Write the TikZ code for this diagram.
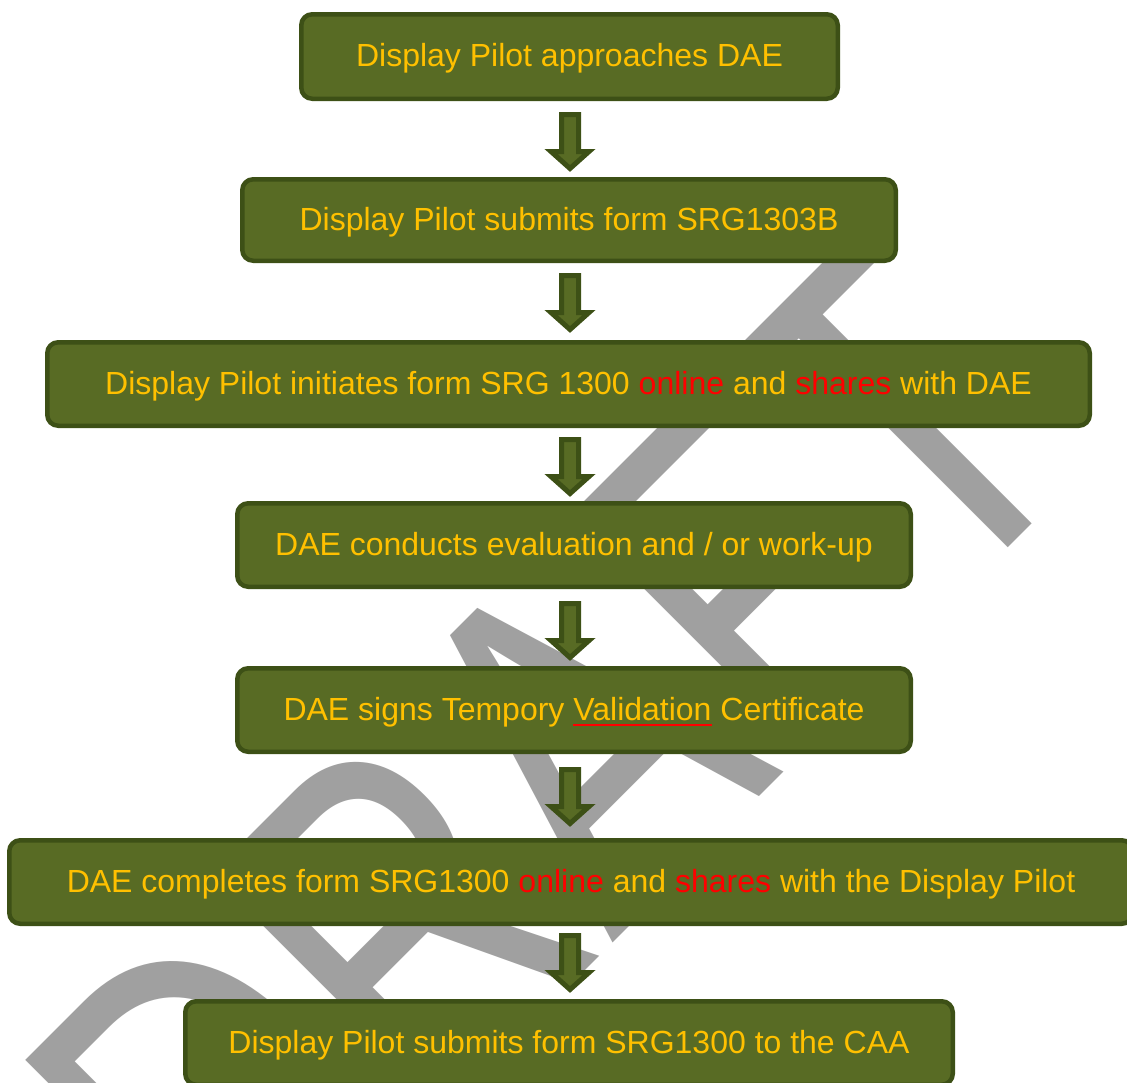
\documentclass[tikz,border=0pt]{standalone}
\usepackage{fontspec}
\setmainfont{Liberation Sans}
\usepackage{graphicx}
\usetikzlibrary{calc}
\definecolor{boxfill}{HTML}{586B24}
\definecolor{boxline}{HTML}{3D5016}
\definecolor{txtyel}{HTML}{FFC000}
\definecolor{wmgray}{RGB}{160,160,160}
\newsavebox\ulbox
\newcommand\redul[1]{\sbox\ulbox{#1}\rlap{\textcolor{red}{\rule[-6.2pt]{\wd\ulbox}{2.5pt}}}\usebox\ulbox}
\newcommand\hl[1]{\textcolor{red}{#1}}
\newcommand\blockarr[1]{\draw[arr] ([shift={(-8.5,2.5)}]#1) -- ([shift={(8.5,2.5)}]#1) -- ([shift={(8.5,39.5)}]#1) -- ([shift={(19,39.5)}]#1) -- ([shift={(0,56.5)}]#1) -- ([shift={(-19,39.5)}]#1) -- ([shift={(-8.5,39.5)}]#1) -- cycle;}
\begin{document}
\begin{tikzpicture}[x=1pt, y=-1pt,
  box/.style={draw=boxline, fill=boxfill, line width=4.5pt, rounded corners=11pt, inner sep=0pt,
    text=txtyel, font=\fontsize{32}{38}\selectfont, text height=20pt, text depth=0pt, minimum height=83.5pt},
  arr/.style={draw=boxline, fill=boxfill, line width=5pt, line join=miter},
  wm/.style={text=wmgray, font=\fontsize{483}{483}\selectfont, inner sep=0pt}]
\useasboundingbox (0,0) rectangle (1127,1082);
\clip (0,0) rectangle (1127,1082);
\fill[white] (0,0) rectangle (1127,1082);
% watermark
\node[wm, anchor=base west, rotate=45] (wmark) at (239.6,1316.4) {\scalebox{0.755}[1]{DRAFT}};
% boxes
\node[box, minimum width=536.5pt, minimum height=84.5pt] (b1) at (569.5,56.5) {Display Pilot approaches DAE};
\node[box, minimum width=653.5pt, minimum height=81.5pt] (b2) at (569,220) {Display Pilot submits form SRG1303B};
\node[box, minimum width=1042.5pt] (b3) at (568.5,384) {Display Pilot initiates form SRG 1300 \hl{online} and \hl{shares} with DAE};
\node[box, minimum width=673.5pt] (b4) at (574,545) {DAE conducts evaluation and / or work-up};
\node[box, minimum width=673.5pt] (b5) at (574,710) {DAE signs Tempory \redul{Validation} Certificate};
\node[box, minimum width=1123.5pt] (b6) at (571,882) {DAE completes form SRG1300 \hl{online} and \hl{shares} with the Display Pilot};
\node[box, minimum width=767.5pt] (b7) at (569,1043) {Display Pilot submits form SRG1300 to the CAA};
% arrows
\coordinate (a1) at (570,112);
\coordinate (a2) at (570,273);
\coordinate (a3) at (570,437);
\coordinate (a4) at (570,601);
\coordinate (a5) at (570,767);
\coordinate (a6) at (570,933);
\blockarr{a1}
\blockarr{a2}
\blockarr{a3}
\blockarr{a4}
\blockarr{a5}
\blockarr{a6}
\end{tikzpicture}
\end{document}
